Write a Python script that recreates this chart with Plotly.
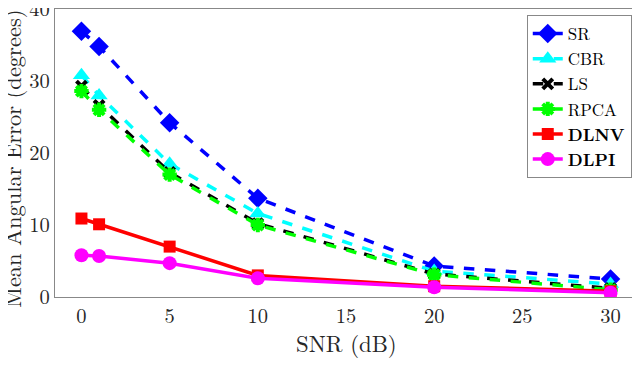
import plotly.graph_objects as go

snr = [0, 1, 5, 10, 20, 30]
sr = [36.9, 34.8, 24.2, 13.7, 4.3, 2.5]
cbr = [30.8, 28.0, 18.5, 11.6, 3.6, 1.8]
ls = [29.3, 26.6, 17.3, 10.2, 3.2, 1.2]
rpca = [28.6, 26.0, 17.0, 10.0, 3.1, 1.0]
dlnv = [10.9, 10.1, 7.0, 3.0, 1.5, 0.8]
dlpi = [5.8, 5.7, 4.7, 2.6, 1.35, 0.6]

series = [
    ("SR", sr, "#0000ff", "dash", "diamond", 15),
    ("CBR", cbr, "#00ffff", "dash", "triangle-up", 15),
    ("LS", ls, "#000000", "dash", "x-thin", 10),
    ("RPCA", rpca, "#00ff00", "dash", "asterisk", 12),
    ("<b>DLNV</b>", dlnv, "#ff0000", "solid", "square", 12),
    ("<b>DLPI</b>", dlpi, "#ff00ff", "solid", "circle", 14),
]

fig = go.Figure()
for name, ys, col, dash, sym, sz in series:
    mk = dict(symbol=sym, size=sz, color=col)
    if sym in ("x-thin", "asterisk"):
        mk["line"] = dict(color=col, width=4)
    fig.add_trace(go.Scatter(x=snr, y=ys, name=name, mode="lines+markers",
                             line=dict(color=col, width=3.5, dash=dash),
                             marker=mk))

font = "Latin Modern Roman, CMU Serif, Liberation Serif, serif"
fig.update_layout(
    width=640, height=390,
    margin=dict(l=47, r=11, t=1, b=101, autoexpand=False),
    paper_bgcolor="white", plot_bgcolor="white",
    font=dict(family=font, size=20.5, color="#262626"),
    showlegend=True,
    legend=dict(x=0.991, y=0.979, xanchor="right", yanchor="top",
                bgcolor="white", bordercolor="#888888", borderwidth=1,
                font=dict(family=font, size=17, color="black"),
                tracegroupgap=0, itemwidth=30),
    xaxis=dict(range=[-1.5, 31.5], tickvals=[0, 5, 10, 15, 20, 25, 30],
               showgrid=False, zeroline=False, showline=True, linecolor="#888888",
               linewidth=1.2, mirror=True, ticks="", automargin=False,
               ticklabeloverflow="allow"),
    yaxis=dict(range=[0, 40], tickvals=[0, 10, 20, 30, 40],
               showgrid=False, zeroline=False, showline=True, linecolor="#888888",
               linewidth=1.2, mirror=True, ticks="", automargin=False,
               ticklabeloverflow="allow"),
    annotations=[
        dict(text="SNR (dB)", xref="paper", yref="paper", x=0.5, y=-0.158,
             xanchor="center", yanchor="middle", showarrow=False,
             font=dict(family=font, size=22.8, color="#262626")),
        dict(text="Mean Angular Error (degrees)", xref="paper", yref="paper",
             x=-0.0739, y=0.48, xanchor="center", yanchor="middle",
             textangle=-90, showarrow=False,
             font=dict(family=font, size=22.5, color="#262626")),
    ],
)
fig.write_html("out.html")
